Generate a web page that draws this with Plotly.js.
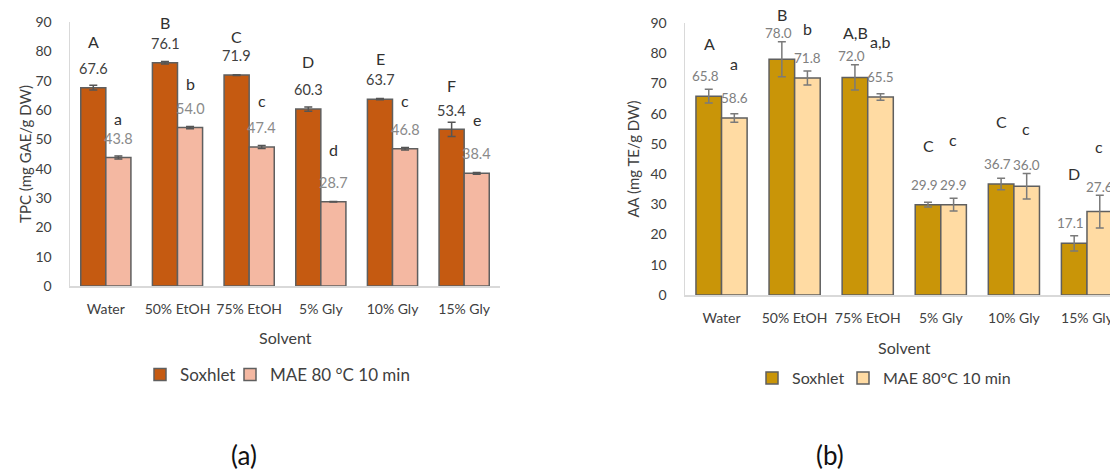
<!DOCTYPE html>
<html>
<head>
<meta charset="utf-8">
<script src="https://cdn.plot.ly/plotly-3.0.1.min.js"></script>
<style>
html,body{margin:0;padding:0;background:#fff;}
#chart{width:1110px;height:470px;}
</style>
</head>
<body>
<div id="chart"></div>
<script>
// ---------- data ----------
const solvents = ["Water", "50% EtOH", "75% EtOH", "5% Gly", "10% Gly", "15% Gly"];

// (a) TPC (mg GAE/g DW)
const tpcSoxhlet    = [67.6, 76.1, 71.9, 60.3, 63.7, 53.4];
const tpcSoxhletErr = [0.8, 0.4, 0.15, 0.7, 0.2, 2.4];
const tpcMae        = [43.8, 54.0, 47.4, 28.7, 46.8, 38.4];
const tpcMaeErr     = [0.5, 0.4, 0.5, 0.1, 0.4, 0.3];
const tpcSoxLetters = ["A", "B", "C", "D", "E", "F"];
const tpcMaeLetters = ["a", "b", "c", "d", "c", "e"];

// (b) AA (mg TE/g DW)
const aaSoxhlet    = [65.8, 78.0, 72.0, 29.9, 36.7, 17.1];
const aaSoxhletErr = [2.3, 5.8, 4.2, 0.8, 1.9, 2.5];
const aaMae        = [58.6, 71.8, 65.5, 29.9, 36.0, 27.6];
const aaMaeErr     = [1.4, 2.3, 1.1, 2.1, 4.2, 5.4];
const aaSoxLetters = ["A", "B", "A,B", "C", "C", "D"];
const aaMaeLetters = ["a", "b", "a,b", "c", "c", "c"];

// ---------- placement of significance letters above bars (data units) ----------
const tpcSoxLift = [15.7, 13.7, 13.3, 16.2, 13.9, 15.1];
const tpcMaeLift = [13.4, 15.1, 16.0, 17.7, 16.6, 18.2];
const aaSoxLift  = [17.5, 14.7, 14.7, 19.7, 20.6, 23.2];
const aaMaeLift  = [18.1, 16.5, 18.3, 21.4, 19.2, 21.5];

// ---------- styles ----------
const FONT = "Lato, 'Open Sans', sans-serif";
const Y_MAX = 90;
const C = {
  soxA: "#C55A11", maeA: "#F4B8A2",
  soxB: "#C99508", maeB: "#FFDBA3",
  outline: "#5F5F5F"
};

function barTrace(name, x, y, err, color, xa, ya, legend, errColor, legendwidth) {
  const t = {
    type: "bar", name: name, x: x, y: y,
    xaxis: xa, yaxis: ya, legend: legend,
    marker: {color: color, line: {color: C.outline, width: 1.5}},
    error_y: {type: "data", array: err, visible: true, color: errColor, thickness: 1.5, width: 4},
    hoverinfo: "x+y"
  };
  if (legendwidth) t.legendwidth = legendwidth;
  return t;
}

const traces = [
  barTrace("Soxhlet", solvents, tpcSoxhlet, tpcSoxhletErr, C.soxA, "x", "y", "legend", "#555555", 45),
  barTrace("MAE 80 °C 10 min", solvents, tpcMae, tpcMaeErr, C.maeA, "x", "y", "legend", "#555555"),
  barTrace("Soxhlet", solvents, aaSoxhlet, aaSoxhletErr, C.soxB, "x2", "y2", "legend2", "#7A7A7A", 46),
  barTrace("MAE 80°C 10 min", solvents, aaMae, aaMaeErr, C.maeB, "x2", "y2", "legend2", "#7A7A7A")
];

const annotations = [];
const HALF = 12.5;
// value labels sit just above the bar, or above its error bar when that is taller
function addLabels(values, errs, xref, ydomRef, shiftX, color, size) {
  values.forEach((v, i) => {
    const yv = Math.max(v + 6.6, v + errs[i] + 2.8);
    annotations.push({
      x: solvents[i], y: yv / Y_MAX, xref: xref, yref: ydomRef, text: v.toFixed(1),
      showarrow: false, xshift: shiftX, yanchor: "middle",
      font: {family: FONT, size: size, color: color}
    });
  });
}
function addLetters(values, letters, lifts, xref, ydomRef, shiftX) {
  values.forEach((v, i) => {
    annotations.push({
      x: solvents[i], y: (v + lifts[i]) / Y_MAX, xref: xref, yref: ydomRef, text: letters[i],
      showarrow: false, xshift: shiftX, yanchor: "middle",
      font: {family: FONT, size: 16, color: "#303030"}
    });
  });
}
addLabels(tpcSoxhlet, tpcSoxhletErr, "x", "y domain", -HALF, "#404040", 14.5);
addLabels(tpcMae, tpcMaeErr, "x", "y domain", HALF, "#8A8A8A", 14.5);
addLabels(aaSoxhlet, aaSoxhletErr, "x2", "y2 domain", -HALF - 4, "#808080", 13.5);
addLabels(aaMae, aaMaeErr, "x2", "y2 domain", HALF, "#808080", 13.5);
addLetters(tpcSoxhlet, tpcSoxLetters, tpcSoxLift, "x", "y domain", -HALF);
addLetters(tpcMae, tpcMaeLetters, tpcMaeLift, "x", "y domain", HALF);
addLetters(aaSoxhlet, aaSoxLetters, aaSoxLift, "x2", "y2 domain", -HALF);
addLetters(aaMae, aaMaeLetters, aaMaeLift, "x2", "y2 domain", HALF);

// axis titles "Solvent" centred under the category groups
annotations.push({x: 2.5, y: 0, xref: "x", yref: "y", yshift: -51, yanchor: "middle", text: "Solvent", showarrow: false,
  font: {family: FONT, size: 16, color: "#404040"}});
annotations.push({x: 2.5, y: 0, xref: "x2", yref: "y2", yshift: -52, yanchor: "middle", text: "Solvent", showarrow: false,
  font: {family: FONT, size: 16, color: "#404040"}});
// panel labels
annotations.push({x: 229/1110, y: 1 - 455/470, xref: "paper", yref: "paper", yanchor: "middle", text: "(a)", showarrow: false,
  font: {family: FONT, size: 26, color: "#111"}});
annotations.push({x: 846/1110, y: 1 - 455/470, xref: "paper", yref: "paper", yanchor: "middle", text: "(b)", showarrow: false,
  font: {family: FONT, size: 26, color: "#111"}});

const xBase = {
  type: "category", showgrid: false, zeroline: false,
  showline: true, linecolor: "#D9D9D9", linewidth: 1.5,
  ticks: "", ticklabelstandoff: 10,
  tickfont: {family: FONT, size: 14, color: "#404040"}, fixedrange: true
};
const yBase = {
  range: [0, Y_MAX], dtick: 10, showgrid: false, zeroline: false,
  showline: true, linecolor: "#D9D9D9", linewidth: 1.5,
  ticks: "", ticklabelstandoff: 14,
  tickfont: {family: FONT, size: 14, color: "#404040"}, fixedrange: true
};

const layout = {
  width: 1110, height: 470,
  margin: {l: 0, r: 0, t: 0, b: 0},
  paper_bgcolor: "#ffffff", plot_bgcolor: "#ffffff",
  barmode: "group", bargap: 0.3, bargroupgap: 0,
  font: {family: FONT, color: "#404040"},
  xaxis: Object.assign({}, xBase, {domain: [70/1110, 500/1110], range: [-0.5, 5.5], anchor: "y"}),
  yaxis: Object.assign({}, yBase, {domain: [1 - 286/470, 1 - 22/470], anchor: "x",
    title: {text: "TPC (mg GAE/g DW)", standoff: 0, font: {family: FONT, size: 15, color: "#404040"}}}),
  xaxis2: Object.assign({}, xBase, {domain: [685/1110, 1], range: [-0.5, 5.315], anchor: "y2"}),
  yaxis2: Object.assign({}, yBase, {domain: [1 - 295/470, 1 - 23/470], anchor: "x2",
    title: {text: "AA (mg TE/g DW)", standoff: 7, font: {family: FONT, size: 15, color: "#404040"}}}),
  showlegend: true,
  legend: {orientation: "h", x: 140/1110, xanchor: "left", y: 1 - 375/470, yanchor: "middle",
    font: {family: FONT, size: 17, color: "#404040"}, bgcolor: "rgba(0,0,0,0)", itemclick: false},
  legend2: {orientation: "h", x: 752/1110, xanchor: "left", y: 1 - 378/470, yanchor: "middle",
    font: {family: FONT, size: 16, color: "#404040"}, bgcolor: "rgba(0,0,0,0)", itemclick: false},
  annotations: annotations
};

Plotly.newPlot("chart", traces, layout, {displayModeBar: false, staticPlot: true});
</script>
</body>
</html>
